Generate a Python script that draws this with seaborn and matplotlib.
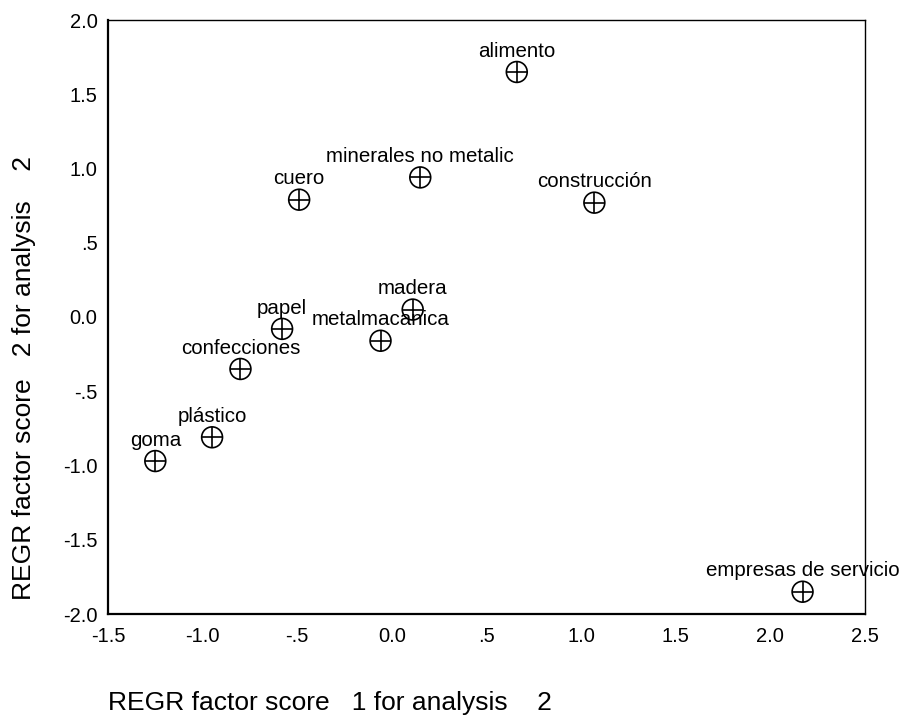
import numpy as np
import pandas as pd
import seaborn as sns
import matplotlib.pyplot as plt

# sector scores
sectores = ['alimento', 'minerales no metalic', 'cuero', 'construcción', 'madera',
            'papel', 'metalmacanica', 'confecciones', 'plástico', 'goma',
            'empresas de servicio']
factor1 = [0.66, 0.15, -0.49, 1.07, 0.11, -0.58, -0.06, -0.80, -0.95, -1.25, 2.17]
factor2 = [1.65, 0.94, 0.79, 0.77, 0.05, -0.08, -0.16, -0.35, -0.81, -0.97, -1.85]

xticks = [-1.5, -1.0, -0.5, 0.0, 0.5, 1.0, 1.5, 2.0, 2.5]
xtick_labels = ['-1.5', '-1.0', '-.5', '0.0', '.5', '1.0', '1.5', '2.0', '2.5']
yticks = [-2.0, -1.5, -1.0, -0.5, 0.0, 0.5, 1.0, 1.5, 2.0]
ytick_labels = ['-2.0', '-1.5', '-1.0', '-.5', '0.0', '.5', '1.0', '1.5', '2.0']

df = pd.DataFrame({'sector': sectores, 'f1': factor1, 'f2': factor2})

sns.set_style('white')
plt.rcParams['font.family'] = ['Liberation Sans', 'DejaVu Sans']

fig = plt.figure(figsize=(8.99, 7.17), dpi=100)
ax = fig.add_axes([108 / 899, 1 - 614 / 717, 757 / 899, 594 / 717])

# circle with a cross through it
sns.scatterplot(data=df, x='f1', y='f2', ax=ax, marker='o', s=225,
                facecolor='none', edgecolor='black', linewidth=1.2, zorder=3)
sns.scatterplot(data=df, x='f1', y='f2', ax=ax, marker='+', s=225,
                color='black', linewidth=1.2, zorder=3)

for _, r in df.iterrows():
    ax.annotate(r['sector'], (r['f1'], r['f2']), xytext=(0, 11),
                textcoords='offset points', ha='center', va='baseline',
                fontsize=14.8, color='black', annotation_clip=False)

ax.set_xlim(-1.5, 2.5)
ax.set_ylim(-2.0, 2.0)
ax.set_xticks(xticks)
ax.set_xticklabels(xtick_labels, fontsize=14.5, color='black')
ax.set_yticks(yticks)
ax.set_yticklabels(ytick_labels, fontsize=14.5, color='black')
ax.tick_params(direction='inout', length=3, width=3, color='black')
ax.tick_params(axis='x', pad=8)
ax.tick_params(axis='y', pad=6)
ax.set_xlabel('')
ax.set_ylabel('')

for side in ['left', 'bottom']:
    ax.spines[side].set_linewidth(1.6)
    ax.spines[side].set_color('black')
for side in ['top', 'right']:
    ax.spines[side].set_linewidth(1.0)
    ax.spines[side].set_color('black')

fig.text(108 / 899, 1 - 703 / 717, 'REGR factor score   1 for analysis    2',
         ha='left', va='center', fontsize=19, color='black')
fig.text(24 / 899, 1 - 600 / 717, 'REGR factor score   2 for analysis    2',
         ha='center', va='bottom', rotation=90, fontsize=19, color='black')

fig.savefig('out.png', dpi=100)
